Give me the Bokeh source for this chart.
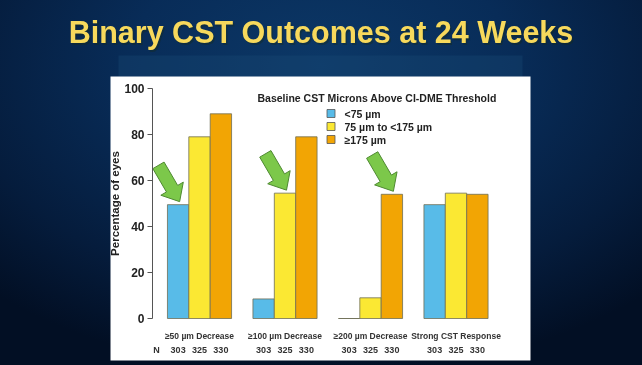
import numpy as np
from bokeh.plotting import figure
from bokeh.models import LinearAxis, FixedTicker, Range1d
from bokeh.core.properties import value
from bokeh.embed import file_html
from bokeh.resources import INLINE

# ---------------- data ----------------
categories = ["≥50 µm Decrease", "≥100 µm Decrease", "≥200 µm Decrease", "Strong CST Response"]
series = ["<75 µm", "75 µm to <175 µm", "≥175 µm"]
below75 = [49.5, 8.5, 0.0, 49.5]
mid75_175 = [79.0, 54.5, 9.0, 54.5]
above175 = [89.0, 79.0, 54.0, 54.0]
n_counts = [303, 325, 330]
y_ticks = [0, 20, 40, 60, 80, 100]
arrow_targets = [(0, 0), (1, 1), (2, 2)]  # (category index, series index)
colors = ["#58bbe8", "#fbe833", "#f2a504"]
title_text = "Binary CST Outcomes at 24 Weeks"
legend_title = "Baseline CST Microns Above CI-DME Threshold"

# ---------------- layout helpers ----------------
W, H = 642, 365
X0_PX, X_SCALE = 199.0, 85.5    # pixel of first group centre, pixels per group
Y0_PX, Y_SCALE = 318.0, 2.3     # pixel of 0 %, pixels per percent


def px2x(px):
    return (px - X0_PX) / X_SCALE


def px2y(py):
    return (Y0_PX - py) / Y_SCALE


FONT = "Liberation Sans"

p = figure(width=W, height=H, output_backend="svg", toolbar_location=None,
           x_range=Range1d(px2x(0), px2x(W)), y_range=Range1d(px2y(H), px2y(0)),
           x_axis_location=None, y_axis_location=None, min_border=0)
p.grid.visible = False
p.outline_line_color = None
p.border_fill_alpha = 0
p.background_fill_alpha = 0
p.styles = {
    "position": "fixed", "left": "0px", "top": "0px",
    "background": "radial-gradient(ellipse 75% 85% at 50% 18%, #0c3867 0%, #082c58 40%, #051c3c 75%, #020f24 100%)",
}

# faint ghost box behind the panel and the white panel
p.quad(left=[px2x(118)], right=[px2x(522)], top=[px2y(55)], bottom=[px2y(76)],
       fill_color="#1a4a75", fill_alpha=0.35, line_color=None)
p.quad(left=[px2x(110)], right=[px2x(530)], top=[px2y(76)], bottom=[px2y(360)],
       fill_color="white", line_color=None)

# title (with a faint dark halo)
p.text(x=[px2x(322)], y=[px2y(33)], text=[title_text], text_align="center",
       text_baseline="middle", text_font=value(FONT), text_font_style="bold",
       text_font_size="30.5px", text_color="#1a2a10", text_alpha=0.35)
p.text(x=[px2x(320.5)], y=[px2y(31.5)], text=[title_text], text_align="center",
       text_baseline="middle", text_font=value(FONT), text_font_style="bold",
       text_font_size="30.5px", text_color="#f7d95c")

# bars
BW = 0.25
all_series = [below75, mid75_175, above175]
for s, (vals, col) in enumerate(zip(all_series, colors)):
    xs = [g + (s - 1) * BW for g in range(len(categories))]
    p.vbar(x=xs, top=vals, bottom=0, width=BW, fill_color=col,
           line_color="#6e6e55", line_width=0.8)

# category labels and N row
p.text(x=list(range(len(categories))), y=[px2y(335)] * len(categories), text=categories,
       text_align="center", text_baseline="middle", text_font=value(FONT),
       text_font_style="bold", text_font_size="8.5px", text_color="#333333")
nx, ny, nt = [px2x(156)], [px2y(349)], ["N"]
for g in range(len(categories)):
    for s in range(len(series)):
        nx.append(g + (s - 1) * BW)
        ny.append(px2y(349))
        nt.append(str(n_counts[s]))
p.text(x=nx, y=ny, text=nt, text_align="center", text_baseline="middle",
       text_font=value(FONT), text_font_style="bold", text_font_size="9px",
       text_color="#333333")

# legend
p.text(x=[px2x(257)], y=[px2y(97)], text=[legend_title], text_align="left",
       text_baseline="middle", text_font=value(FONT), text_font_style="bold",
       text_font_size="10.5px", text_color="#222222")
ly = [px2y(113 + 13 * i) for i in range(len(series))]
p.scatter(x=[px2x(330.5)] * len(series), y=ly, marker="square", size=8,
          fill_color=colors, line_color="#555555", line_width=0.8)
p.text(x=[px2x(344)] * len(series), y=ly, text=series, text_align="left",
       text_baseline="middle", text_font=value(FONT), text_font_style="bold",
       text_font_size="10.5px", text_color="#222222")

# green arrows pointing at highlighted bars
d = np.array([0.504, 0.864])
n = np.array([-0.864, 0.504])
L, HL, SW, HW = 42.0, 15.0, 6.5, 13.0
shape = [np.zeros(2), -HL * d + HW * n, -HL * d + SW * n, -L * d + SW * n,
         -L * d - SW * n, -HL * d - SW * n, -HL * d - HW * n]
axs, ays = [], []
for g, s in arrow_targets:
    xc = g + (s - 1) * BW
    top = all_series[s][g]
    tip = np.array([X0_PX + X_SCALE * xc + 1.5, Y0_PX - Y_SCALE * top - 3])
    pts = [tip + v for v in shape]
    axs.append([px2x(pt[0]) for pt in pts])
    ays.append([px2y(pt[1]) for pt in pts])
p.patches(axs, ays, fill_color="#7cc84a", line_color="#4f8a32", line_width=1)

# y axis
ax = LinearAxis(fixed_location=px2x(152), bounds=(0, 100),
                ticker=FixedTicker(ticks=y_ticks), axis_label="Percentage of eyes")
ax.axis_line_color = "#555555"
ax.major_tick_line_color = "#555555"
ax.major_tick_out = 5
ax.major_tick_in = 0
ax.minor_tick_line_color = None
ax.major_label_text_font = FONT
ax.major_label_text_font_style = "bold"
ax.major_label_text_font_size = "12px"
ax.major_label_text_color = "#222222"
ax.major_label_standoff = 3
ax.axis_label_text_font = FONT
ax.axis_label_text_font_style = "bold"
ax.axis_label_text_font_size = "11.5px"
ax.axis_label_text_color = "#222222"
ax.axis_label_standoff = 0
p.add_layout(ax, "left")

open("out.html", "w").write(file_html(p, INLINE))
